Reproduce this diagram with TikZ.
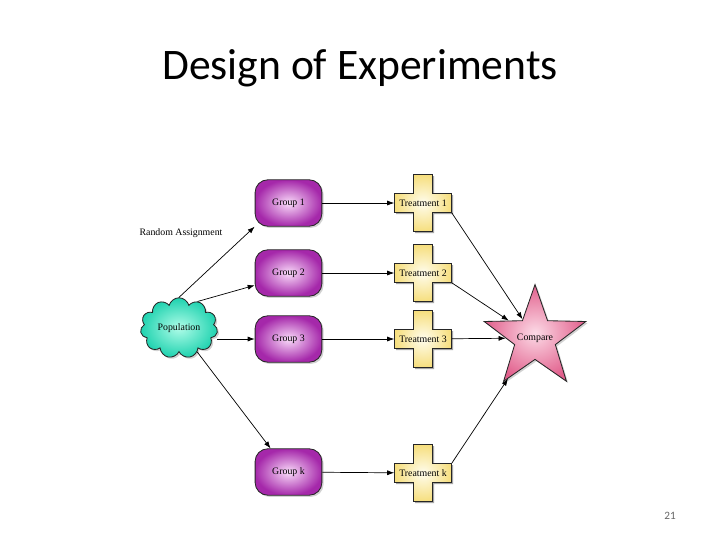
\documentclass[tikz,border=0pt]{standalone}
\usepackage{fontspec}
\setmainfont{Liberation Serif}
\newfontfamily\titlefont{Carlito}
\usetikzlibrary{arrows.meta,shapes.geometric,shapes.symbols,shadows,backgrounds}
\definecolor{grpout}{RGB}{165,40,170}
\definecolor{grpin}{RGB}{250,220,250}
\definecolor{trtout}{RGB}{246,222,125}
\definecolor{trtin}{RGB}{255,253,238}
\definecolor{popout}{RGB}{30,210,175}
\definecolor{popin}{RGB}{175,252,232}
\definecolor{cmpout}{RGB}{225,95,140}
\definecolor{cmpin}{RGB}{252,218,230}
\tikzset{
  lbl/.style={font=\fontsize{7}{8}\selectfont},
  shd/.style={drop shadow={shadow xshift=1.2pt,shadow yshift=-1.2pt,opacity=.35}},
  grp/.style={lbl,shd,draw=black!85,line width=.6pt,rounded corners=9pt,minimum width=47.5pt,minimum height=33pt,inner color=grpin,outer color=grpout},
  trt/.style={lbl,minimum width=40.5pt,minimum height=13.5pt,inner sep=0pt},
  flow/.style={-{Latex[length=5pt,width=3.6pt]},line width=.5pt},
  plus/.pic={
    \fill[black!35,xshift=1.2pt,yshift=-1.2pt] (-28.5,-9.5)--(-9.5,-9.5)--(-9.5,-28.5)--(9.5,-28.5)--(9.5,-9.5)--(28.5,-9.5)--(28.5,9.5)--(9.5,9.5)--(9.5,28.5)--(-9.5,28.5)--(-9.5,9.5)--(-28.5,9.5)--cycle;
    \shade[draw=black!85,line width=.6pt,inner color=trtin,outer color=trtout] (-28.5,-9.5)--(-9.5,-9.5)--(-9.5,-28.5)--(9.5,-28.5)--(9.5,-9.5)--(28.5,-9.5)--(28.5,9.5)--(9.5,9.5)--(9.5,28.5)--(-9.5,28.5)--(-9.5,9.5)--(-28.5,9.5)--cycle;
  }
}
\begin{document}
\begin{tikzpicture}[x=.025cm,y=-.025cm]
\useasboundingbox (0,0) rectangle (720,540);
\node (title) at (360,68) {\titlefont\fontsize{31}{36}\selectfont Design of Experiments};
\node (pg) at (670,516) {\titlefont\fontsize{8}{9}\selectfont\color{black!60}21};
\node[font=\fontsize{7}{8}\selectfont] (ra) at (181,233) {Random Assignment};
\node[lbl,shd,cloud,cloud puffs=11,aspect=1.3,minimum width=55pt,minimum height=43pt,inner sep=0pt,draw=black!85,line width=.6pt,inner color=popin,outer color=popout] (pop) at (179,328) {Population};
\node[grp] (g1) at (288.5,203) {Group 1};
\node[grp] (g2) at (288.5,273) {Group 2};
\node[grp] (g3) at (288.5,339) {Group 3};
\node[grp] (gk) at (288.5,472) {Group k};
\node[trt] (t1) at (423,203) {Treatment 1};
\node[trt] (t2) at (423,273) {Treatment 2};
\node[trt] (t3) at (423,339) {Treatment 3};
\node[trt] (tk) at (423,473) {Treatment k};
\node[shd,star,star points=5,star point ratio=2.5,minimum size=76pt,inner sep=0pt,draw=black!85,line width=.6pt,inner color=cmpin,outer color=cmpout,label={[lbl]center:Compare}] (cmp) at (535,338) {};
\begin{scope}[on background layer]
\fill[white] (0,0) rectangle (720,540);
\foreach \t in {t1,t2,t3,tk} \pic at (\t.center) {plus};
\end{scope}
\draw[flow] (pop.north) -- (g1.south west);
\draw[flow] (pop.55) -- (g2.200);
\draw[flow] (g3.west -| pop.east) -- (g3.west);
\draw[flow] (pop) -- (gk);
\draw[flow] (g1) -- (t1);
\draw[flow] (g2) -- (t2);
\draw[flow] (g3) -- (t3);
\draw[flow] (gk) -- (tk);
\draw[flow] (t1.south east) -- (cmp);
\draw[flow] (t2.south east) -- (cmp);
\draw[flow] (t3) -- (cmp);
\draw[flow] (tk.north east) -- (cmp);
\end{tikzpicture}
\end{document}
